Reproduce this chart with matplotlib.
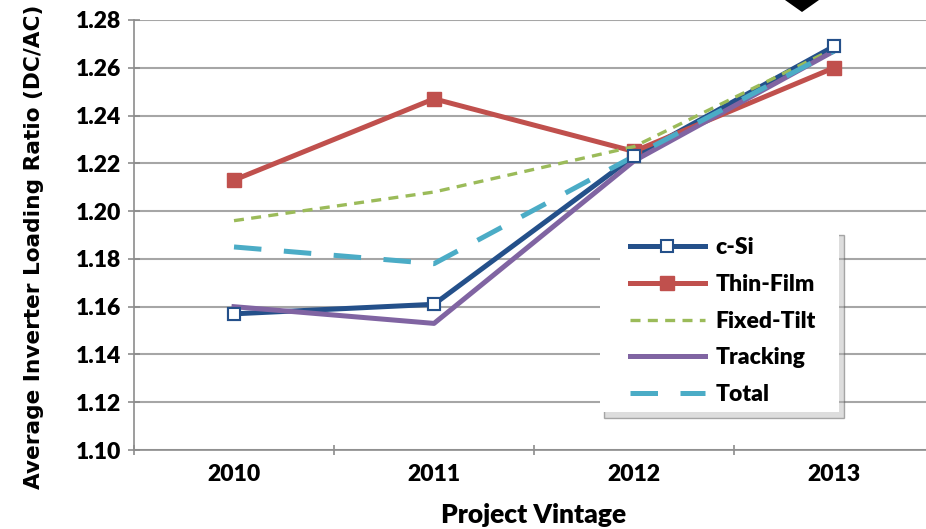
import matplotlib
matplotlib.use("Agg")
import matplotlib.pyplot as plt
from matplotlib.patches import Polygon, Rectangle, Shadow

# data
years = ["2010", "2011", "2012", "2013"]
csi = [1.157, 1.161, 1.223, 1.269]
thin_film = [1.213, 1.247, 1.225, 1.260]
fixed_tilt = [1.196, 1.208, 1.227, 1.268]
tracking = [1.160, 1.153, 1.221, 1.267]
total = [1.185, 1.178, 1.223, 1.267]
yticks = [1.10, 1.12, 1.14, 1.16, 1.18, 1.20, 1.22, 1.24, 1.26, 1.28]

tick_font = "Lato"
x = list(range(len(years)))

fig = plt.figure(figsize=(9.26, 5.29), dpi=100)
ax = fig.add_axes([0.1447, 0.1493, 0.864, 0.8129])

ax.plot(x, csi, color="#24508A", lw=3.6, marker="s", ms=9, mfc="white",
        mec="#24508A", mew=1.5, label="c-Si", zorder=3)
ax.plot(x, thin_film, color="#C0504D", lw=3.6, marker="s", ms=10,
        mfc="#C0504D", mec="#C0504D", label="Thin-Film", zorder=3)
ax.plot(x, fixed_tilt, color="#9BBB59", lw=2.4, ls=(0, (3, 2.2)),
        label="Fixed-Tilt", zorder=4)
ax.plot(x, tracking, color="#8064A2", lw=3.6, label="Tracking", zorder=4)
ax.plot(x, total, color="#4BACC6", lw=3.6, ls=(0, (5.5, 4.5)),
        label="Total", zorder=5)
# open markers on top
ax.plot(x, csi, ls="none", marker="s", ms=9, mfc="white",
        mec="#24508A", mew=1.5, zorder=6)

ax.set_xlim(-0.5, 3.5)
ax.set_ylim(1.10, 1.28)
ax.set_yticks(yticks)
ax.set_yticklabels([f"{v:.2f}" for v in yticks], fontsize=16.5,
                   fontweight="heavy", family=tick_font)
ax.set_xticks(x)
ax.set_xticklabels(years, fontsize=16.5, fontweight="heavy", family=tick_font)
ax.set_xticks([-0.5, 0.5, 1.5, 2.5, 3.5], minor=True)
ax.tick_params(axis="x", which="major", length=0, pad=10)
ax.tick_params(axis="x", which="minor", length=7, width=1.2,
               color="#8C8C8C", direction="inout")
ax.tick_params(axis="y", length=8, width=1.2, color="#8C8C8C",
               direction="inout", pad=5)

ax.grid(axis="y", color="#A6A6A6", lw=1.5)
ax.set_axisbelow(True)
for s in ["top", "right"]:
    ax.spines[s].set_visible(False)
for s in ["left", "bottom"]:
    ax.spines[s].set_color("#8C8C8C")
    ax.spines[s].set_linewidth(1.2)

ax.set_ylabel("Average Inverter Loading Ratio (DC/AC)", fontsize=15.6,
              fontweight="bold", family="DejaVu Sans")
ax.yaxis.set_label_coords(-0.113, 0.472)
ax.set_xlabel("Project Vintage", fontsize=19, fontweight="heavy",
              family=tick_font, labelpad=13)

leg = ax.legend(loc="upper left", bbox_to_anchor=(0.61, 0.512),
                frameon=False,
                prop={"family": tick_font, "weight": "heavy", "size": 16.5},
                handlelength=3.3, labelspacing=0.68, borderpad=0.33,
                handletextpad=0.45, borderaxespad=0)
leg.set_zorder(10)

# white legend box with soft shadow, wider than the legend itself
fig.canvas.draw()
bb = leg.get_window_extent()
box = Rectangle((bb.x0 - 22, bb.y0), bb.width + 38, bb.height,
                transform=None, facecolor="white", edgecolor="none",
                zorder=8)
sh = Shadow(box, 3, -4, facecolor="#B5B5B5", alpha=0.45, zorder=7)
ax.add_artist(sh)
ax.add_artist(box)

# arrow tip at top right
fig.patches.append(Polygon([[785 / 926, 1.0], [819 / 926, 1.0],
                            [802 / 926, 1 - 12 / 529]], closed=True,
                           transform=fig.transFigure, facecolor="black",
                           lw=0))

fig.savefig("out.png", dpi=100)
